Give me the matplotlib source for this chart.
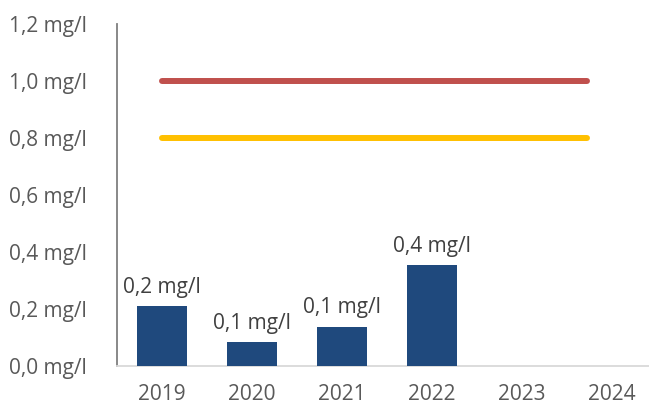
import numpy as np
import matplotlib
matplotlib.use("Agg")
import matplotlib.pyplot as plt

# data
years = ["2019", "2020", "2021", "2022", "2023", "2024"]
values = [0.21, 0.084, 0.137, 0.354, np.nan, np.nan]
value_labels = ["0,2 mg/l", "0,1 mg/l", "0,1 mg/l", "0,4 mg/l", "", ""]
limit_red = 1.0
limit_yellow = 0.8
line_start, line_end = 0, 4.72  # category positions the limit lines span
y_ticks = [0.0, 0.2, 0.4, 0.6, 0.8, 1.0, 1.2]

plt.rcParams['font.family'] = ['Open Sans', 'DejaVu Sans']
fs = 15

fig = plt.figure(figsize=(6.49, 4.07), dpi=100)
ax = fig.add_axes([117 / 649, 41 / 407, 1 - 117 / 649, 342 / 407])

x = np.arange(len(years))
bars = ax.bar(x, values, width=0.56, color='#1F497D', zorder=3)
for xi, v, lab in zip(x, values, value_labels):
    if lab:
        ax.text(xi, v + 0.03, lab, ha='center', va='bottom', fontsize=fs, color='#404040')

ax.plot([line_start, line_end], [limit_red] * 2, color='#C0504D', lw=4.3,
        solid_capstyle='round', zorder=4)
ax.plot([line_start, line_end], [limit_yellow] * 2, color='#FFC000', lw=4.3,
        solid_capstyle='round', zorder=4)

ax.set_xlim(-0.5, 5.41)
ax.set_ylim(0, 1.2)
ax.set_xticks(x)
ax.set_xticklabels(years)
ax.set_yticks(y_ticks)
ax.set_yticklabels([f"{t:.1f}".replace('.', ',') + " mg/l" for t in y_ticks])
ax.tick_params(axis='both', length=0, labelsize=fs, colors='#595959')
ax.tick_params(axis='y', pad=22)
ax.tick_params(axis='x', pad=13)

for s in ['top', 'right']:
    ax.spines[s].set_visible(False)
ax.spines['left'].set_color('#7f7f7f')
ax.spines['left'].set_linewidth(1.3)
ax.spines['bottom'].set_color('#d9d9d9')
ax.spines['bottom'].set_linewidth(1.3)

fig.savefig('out.png', dpi=100)
